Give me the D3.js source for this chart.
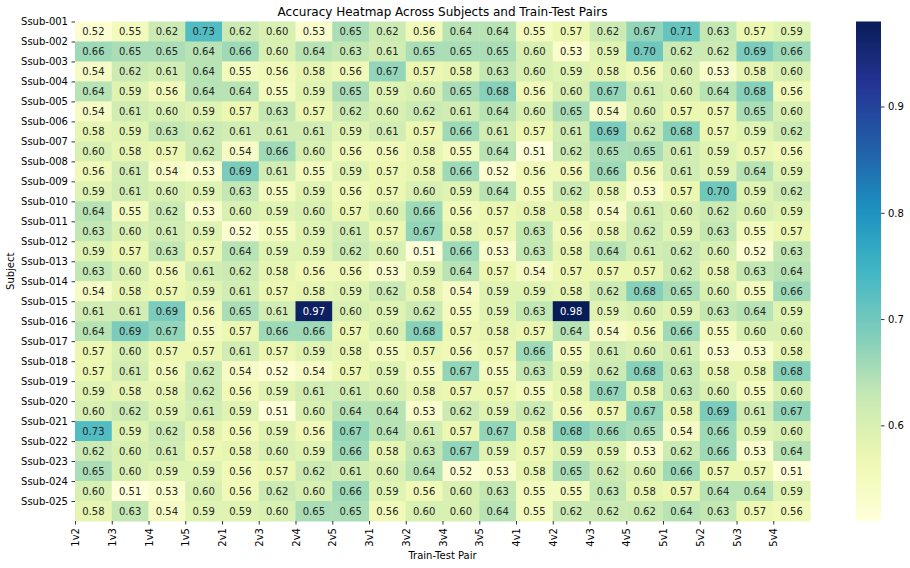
<!DOCTYPE html>
<html><head><meta charset="utf-8">
<script src="https://cdn.jsdelivr.net/npm/d3@7"></script>
<style>
body{margin:0;background:#fff;}
text{font-family:"DejaVu Sans",sans-serif;}
</style></head>
<body><svg id="chart" width="910" height="568"></svg>
<script>
const subjects = d3.range(1,26).map(i => "Ssub-" + String(i).padStart(3,"0"));
const pairs = ["1v2","1v3","1v4","1v5","2v1","2v3","2v4","2v5","3v1","3v2","3v4","3v5","4v1","4v2","4v3","4v5","5v1","5v2","5v3","5v4"];
const values = [
[0.52,0.55,0.62,0.73,0.62,0.60,0.53,0.65,0.62,0.56,0.64,0.64,0.55,0.57,0.62,0.67,0.71,0.63,0.57,0.59],
[0.66,0.65,0.65,0.64,0.66,0.60,0.64,0.63,0.61,0.65,0.65,0.65,0.60,0.53,0.59,0.70,0.62,0.62,0.69,0.66],
[0.54,0.62,0.61,0.64,0.55,0.56,0.58,0.56,0.67,0.57,0.58,0.63,0.60,0.59,0.58,0.56,0.60,0.53,0.58,0.60],
[0.64,0.59,0.56,0.64,0.64,0.55,0.59,0.65,0.59,0.60,0.65,0.68,0.56,0.60,0.67,0.61,0.60,0.64,0.68,0.56],
[0.54,0.61,0.60,0.59,0.57,0.63,0.57,0.62,0.60,0.62,0.61,0.64,0.60,0.65,0.54,0.60,0.57,0.57,0.65,0.60],
[0.58,0.59,0.63,0.62,0.61,0.61,0.61,0.59,0.61,0.57,0.66,0.61,0.57,0.61,0.69,0.62,0.68,0.57,0.59,0.62],
[0.60,0.58,0.57,0.62,0.54,0.66,0.60,0.56,0.56,0.58,0.55,0.64,0.51,0.62,0.65,0.65,0.61,0.59,0.57,0.56],
[0.56,0.61,0.54,0.53,0.69,0.61,0.55,0.59,0.57,0.58,0.66,0.52,0.56,0.56,0.66,0.56,0.61,0.59,0.64,0.59],
[0.59,0.61,0.60,0.59,0.63,0.55,0.59,0.56,0.57,0.60,0.59,0.64,0.55,0.62,0.58,0.53,0.57,0.70,0.59,0.62],
[0.64,0.55,0.62,0.53,0.60,0.59,0.60,0.57,0.60,0.66,0.56,0.57,0.58,0.58,0.54,0.61,0.60,0.62,0.60,0.59],
[0.63,0.60,0.61,0.59,0.52,0.55,0.59,0.61,0.57,0.67,0.58,0.57,0.63,0.56,0.58,0.62,0.59,0.63,0.55,0.57],
[0.59,0.57,0.63,0.57,0.64,0.59,0.59,0.62,0.60,0.51,0.66,0.53,0.63,0.58,0.64,0.61,0.62,0.60,0.52,0.63],
[0.63,0.60,0.56,0.61,0.62,0.58,0.56,0.56,0.53,0.59,0.64,0.57,0.54,0.57,0.57,0.57,0.62,0.58,0.63,0.64],
[0.54,0.58,0.57,0.59,0.61,0.57,0.58,0.59,0.62,0.58,0.54,0.59,0.59,0.58,0.62,0.68,0.65,0.60,0.55,0.66],
[0.61,0.61,0.69,0.56,0.65,0.61,0.97,0.60,0.59,0.62,0.55,0.59,0.63,0.98,0.59,0.60,0.59,0.63,0.64,0.59],
[0.64,0.69,0.67,0.55,0.57,0.66,0.66,0.57,0.60,0.68,0.57,0.58,0.57,0.64,0.54,0.56,0.66,0.55,0.60,0.60],
[0.57,0.60,0.57,0.57,0.61,0.57,0.59,0.58,0.55,0.57,0.56,0.57,0.66,0.55,0.61,0.60,0.61,0.53,0.53,0.58],
[0.57,0.61,0.56,0.62,0.54,0.52,0.54,0.57,0.59,0.55,0.67,0.55,0.63,0.59,0.62,0.68,0.63,0.58,0.58,0.68],
[0.59,0.58,0.58,0.62,0.56,0.59,0.61,0.61,0.60,0.58,0.57,0.57,0.55,0.58,0.67,0.58,0.63,0.60,0.55,0.60],
[0.60,0.62,0.59,0.61,0.59,0.51,0.60,0.64,0.64,0.53,0.62,0.59,0.62,0.56,0.57,0.67,0.58,0.69,0.61,0.67],
[0.73,0.59,0.62,0.58,0.56,0.59,0.56,0.67,0.64,0.61,0.57,0.67,0.58,0.68,0.66,0.65,0.54,0.66,0.59,0.60],
[0.62,0.60,0.61,0.57,0.58,0.60,0.59,0.66,0.58,0.63,0.67,0.59,0.57,0.59,0.59,0.53,0.62,0.66,0.53,0.64],
[0.65,0.60,0.59,0.59,0.56,0.57,0.62,0.61,0.60,0.64,0.52,0.53,0.58,0.65,0.62,0.60,0.66,0.57,0.57,0.51],
[0.60,0.51,0.53,0.60,0.56,0.62,0.60,0.66,0.59,0.56,0.60,0.63,0.55,0.55,0.63,0.58,0.57,0.64,0.64,0.59],
[0.58,0.63,0.54,0.59,0.59,0.60,0.65,0.65,0.56,0.60,0.60,0.64,0.55,0.62,0.62,0.62,0.64,0.63,0.57,0.56]
];
const colorbarTicks = [0.6, 0.7, 0.8, 0.9];
const ylgnbu = ["#ffffd9","#edf8b1","#c7e9b4","#7fcdbb","#41b6c4","#1d91c0","#225ea8","#253494","#081d58"];

const svg = d3.select("#chart");
const L = 75, R = 810, T = 21.5, B = 521;
const all = values.flat();
const vmin = d3.min(all), vmax = d3.max(all);
const color = d3.scaleLinear()
  .domain(ylgnbu.map((c,i) => vmin + (vmax - vmin) * i / (ylgnbu.length - 1)))
  .range(ylgnbu).interpolate(d3.interpolateRgb).clamp(true);

const x = d3.scaleBand().domain(pairs).range([L, R]).paddingInner(0).paddingOuter(0);
const y = d3.scaleBand().domain(subjects).range([T, B]).paddingInner(0).paddingOuter(0);

const cells = [];
values.forEach((row, r) => row.forEach((v, c) => cells.push({s: subjects[r], p: pairs[c], v})));

function lum(col){
  const c = d3.rgb(col);
  const f = u => { u /= 255; return u <= 0.03928 ? u / 12.92 : Math.pow((u + 0.055) / 1.055, 2.4); };
  return 0.2126 * f(c.r) + 0.7152 * f(c.g) + 0.0722 * f(c.b);
}

svg.append("g").selectAll("rect").data(cells).join("rect")
  .attr("x", d => x(d.p)).attr("y", d => y(d.s))
  .attr("width", x.bandwidth() + 0.5).attr("height", y.bandwidth() + 0.5)
  .attr("fill", d => color(d.v));

svg.append("g").selectAll("text").data(cells).join("text")
  .attr("x", d => x(d.p) + x.bandwidth() / 2)
  .attr("y", d => y(d.s) + y.bandwidth() / 2)
  .attr("text-anchor", "middle").attr("dominant-baseline", "central")
  .attr("font-size", "10px")
  .attr("fill", d => lum(color(d.v)) < 0.408 ? "#ffffff" : "#262626")
  .text(d => d.v.toFixed(2));

// axes with ticks at cell starts
const xi = d3.scaleLinear().domain([0, pairs.length]).range([L, R]);
const yi = d3.scaleLinear().domain([0, subjects.length]).range([T, B]);

const xAxis = svg.append("g").attr("transform", `translate(0,${B})`)
  .call(d3.axisBottom(xi).tickValues(d3.range(pairs.length)).tickFormat(i => pairs[i]).tickSize(3.5).tickPadding(3.5));
xAxis.select(".domain").remove();
xAxis.selectAll("text").attr("font-size", "10px").attr("fill", "#000")
  .attr("transform", "rotate(-90)").attr("text-anchor", "end")
  .attr("x", -7).attr("y", 0).attr("dy", "0.35em");
xAxis.selectAll("line").attr("stroke", "#000").attr("stroke-width", 0.8);

const yAxis = svg.append("g").attr("transform", `translate(${L},0)`)
  .call(d3.axisLeft(yi).tickValues(d3.range(subjects.length)).tickFormat(i => subjects[i]).tickSize(3.5).tickPadding(3.5));
yAxis.select(".domain").remove();
yAxis.selectAll("text").attr("font-size", "10px").attr("fill", "#000");
yAxis.selectAll("line").attr("stroke", "#000").attr("stroke-width", 0.8);

// colorbar
const cbL = 856, cbW = 25;
const cy = d3.scaleLinear().domain([vmin, vmax]).range([B, T]);
const defs = svg.append("defs");
const grad = defs.append("linearGradient").attr("id", "cbgrad")
  .attr("x1", 0).attr("y1", 1).attr("x2", 0).attr("y2", 0);
d3.range(0, 1.0001, 0.02).forEach(t => {
  grad.append("stop").attr("offset", t).attr("stop-color", color(vmin + t * (vmax - vmin)));
});
svg.append("rect").attr("x", cbL).attr("y", T).attr("width", cbW).attr("height", B - T).attr("fill", "url(#cbgrad)");
const cAxis = svg.append("g").attr("transform", `translate(${cbL + cbW},0)`)
  .call(d3.axisRight(cy).tickValues(colorbarTicks).tickFormat(d3.format(".1f")).tickSize(3.5).tickPadding(3.5));
cAxis.select(".domain").remove();
cAxis.selectAll("text").attr("font-size", "10px").attr("fill", "#000");
cAxis.selectAll("line").attr("stroke", "#000").attr("stroke-width", 0.8);

// titles
svg.append("text").attr("x", (L + R) / 2).attr("y", 16).attr("text-anchor", "middle")
  .attr("font-size", "12px").attr("fill", "#000").text("Accuracy Heatmap Across Subjects and Train-Test Pairs");
svg.append("text").attr("x", (L + R) / 2).attr("y", 559).attr("text-anchor", "middle")
  .attr("font-size", "10px").attr("fill", "#000").text("Train-Test Pair");
svg.append("text").attr("transform", `translate(14,${(T + B) / 2}) rotate(-90)`).attr("text-anchor", "middle")
  .attr("font-size", "10px").attr("fill", "#000").text("Subject");
</script></body></html>
